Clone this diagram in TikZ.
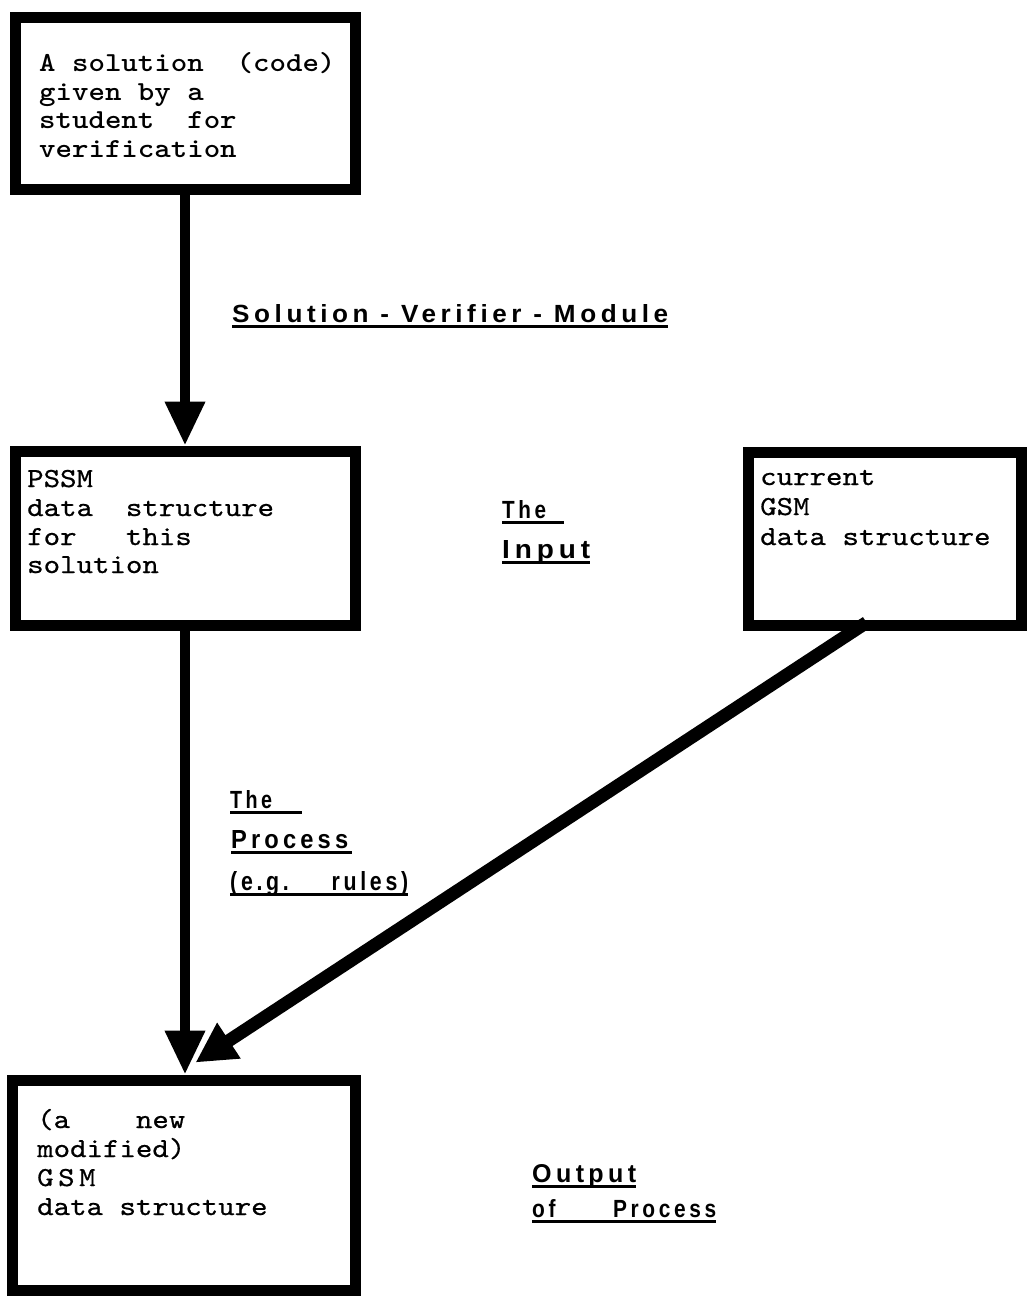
\documentclass[tikz,border=0pt]{standalone}
\usepackage{graphicx}
\usepackage{fontspec}
\usetikzlibrary{arrows.meta,backgrounds,calc}
\newfontfamily\monoreg[FakeStretch=1.14,FakeBold=0.6]{lmmono10-regular.otf}
\newfontfamily\monobold[FakeStretch=1.14]{lmmonolt10-bold.otf}
\newfontfamily\labfont[LetterSpace=14,FakeStretch=0.8]{Liberation Sans}
\newcommand\labtxt[3]{\resizebox{#1}{#2}{\labfont\bfseries #3}}
\tikzset{
  box/.style={draw, line width=11pt, rectangle, inner sep=0pt},
  mono/.style={anchor=base west, inner sep=0pt, font=\monoreg\fontsize{27.5}{29}\selectfont},
  monob/.style={anchor=base west, inner sep=0pt, font=\monobold\fontsize{27.5}{29}\selectfont},
  lab/.style={anchor=base west, inner sep=0pt},
  uline/.style={line width=3pt},
  varrow/.style={line width=10pt, -{Triangle[length=44pt,width=38pt]}},
  darrow/.style={line width=13pt, -{Triangle[length=40pt,width=40pt]}},
}
\begin{document}
\begin{tikzpicture}[x=1pt,y=-1pt]
\useasboundingbox (0,0) rectangle (1027,1296);
% boxes
\node[box, minimum width=340pt, minimum height=172pt] (top) at (185,103) {};
\node[box, minimum width=340pt, minimum height=174pt] (pssm) at (185,538) {};
\node[box, minimum width=273pt, minimum height=173pt] (cur) at (884.5,538.5) {};
\node[box, minimum width=343pt, minimum height=210pt] (bot) at (183.5,1185) {};
% box texts
\node[monob] (t1) at (39,71) {A solution~~(code)};
\node[monob] (t2) at (39,100) {given by a};
\node[monob] (t3) at (39,128) {student~~for};
\node[monob] (t4) at (39,157) {verification};
\node[mono] (p1) at (27,487) {PSSM};
\node[mono] (p2) at (27,516) {data~~structure};
\node[mono] (p3) at (27,545) {for~~~this};
\node[mono] (p4) at (27,573) {solution};
\node[mono] (c1) at (760,485) {current};
\node[mono] (c2) at (760,515) {GSM};
\node[mono] (c3) at (760,545) {data structure};
\node[mono] (b1) at (37,1128) {(a~~~~new};
\node[mono] (b2) at (37,1157) {modified)};
\node[mono] (b3) at (37,1186) {G\kern4.5pt S\kern4.5pt M};
\node[mono] (b4) at (37,1215) {data structure};
% labels
\node[lab] (sv) at (232,322) {\labtxt{436pt}{18pt}{Solution - Verifier - Module}};
\node[lab] (thein) at (502,518) {\labtxt{44pt}{18pt}{The}};
\node[lab] (input) at (502,558) {\labtxt{88pt}{18pt}{Input}};
\node[lab] (thep) at (230,808) {\labtxt{42pt}{18pt}{The}};
\node[lab] (proc) at (231,848) {\labtxt{117pt}{18pt}{Process}};
\node[lab] (eg) at (230,890) {\labtxt{178pt}{19pt}{(e.g.\hspace{1.6em}rules)}};
\node[lab] (outp) at (532,1182) {\labtxt{104pt}{18pt}{Output}};
\node[lab] (ofp) at (532,1217) {\labtxt{184pt}{18pt}{of\hspace{2.2em}Process}};
% underlines
\draw[uline] ($(sv.base west)+(0,4)$) -- ($(sv.base east)+(0,4)$);
\draw[uline] ($(thein.base west)+(0,4)$) -- ($(thein.base west)+(62,4)$);
\draw[uline] ($(input.base west)+(0,4)$) -- ($(input.base east)+(0,4)$);
\draw[uline] ($(thep.base west)+(0,4)$) -- ($(thep.base west)+(72,4)$);
\draw[uline] ($(proc.base west)+(0,4)$) -- ($(proc.base west)+(121,4)$);
\draw[uline] ($(eg.base west)+(0,4)$) -- ($(eg.base east)+(0,4)$);
\draw[uline] ($(outp.base west)+(0,4)$) -- ($(outp.base east)+(0,4)$);
\draw[uline] ($(ofp.base west)+(0,4)$) -- ($(ofp.base east)+(0,4)$);
% connectors
\begin{scope}[on background layer]
\draw[varrow] (top.south) -- (pssm.north);
\draw[varrow] (pssm.south) -- (pssm.south |- bot.north);
\draw[darrow] ([xshift=-18pt,yshift=8pt]cur.south) -- ([xshift=12pt,yshift=12pt]bot.north);
\end{scope}
\end{tikzpicture}
\end{document}
